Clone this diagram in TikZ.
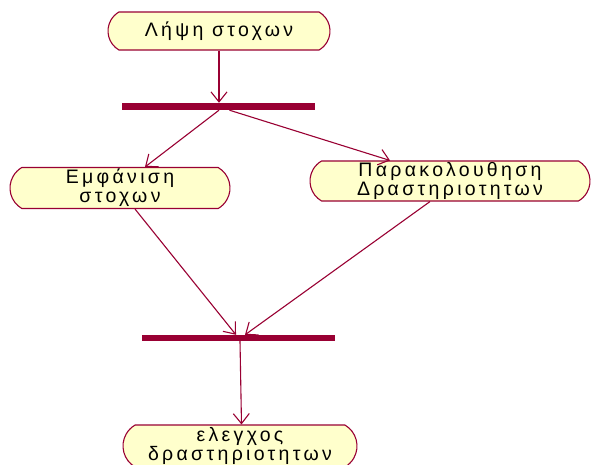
\documentclass[tikz,border=0pt]{standalone}
\usepackage{fontspec}
\setmainfont{Liberation Sans}[LetterSpace=17]
\usetikzlibrary{arrows.meta,shapes.misc,calc}
\definecolor{umlred}{HTML}{990033}
\definecolor{umlfill}{HTML}{FFFFCC}
\tikzset{
  activity/.style={rounded rectangle, rounded rectangle arc length=120, draw=umlred, fill=umlfill, line width=1.1pt,
    inner sep=0pt, align=center, font=\fontsize{19.5}{19}\selectfont},
  syncbar/.style={rectangle, fill=umlred, inner sep=0pt},
  flow/.style={draw=umlred, line width=1.1pt, -{Straight Barb[length=10pt,width=16pt,line width=1.1pt]}}
}
\begin{document}
\begin{tikzpicture}[x=1pt,y=1pt]
\useasboundingbox (0,0) rectangle (593,-464);
\clip (0,0) rectangle (593,-464);
\fill[white] (0,0) rectangle (593,-464);
% activity states
\node[activity, minimum width=222pt, minimum height=38pt] (get) at (219,-31) {Λήψη στοχων};
\node[activity, minimum width=220pt, minimum height=41pt] (show) at (120,-188) {Εμφάνιση\\στοχων};
\node[activity, minimum width=280pt, minimum height=40pt] (track) at (450,-181) {Παρακολουθηση\\Δραστηριοτητων};
\node[activity, minimum width=234pt, minimum height=42pt] (check) at (240,-446) {ελεγχος\\δραστηριοτητων};
% synchronisation bars
\node[syncbar, minimum width=193pt, minimum height=7pt] (fork) at (218.5,-106.5) {};
\node[syncbar, minimum width=193pt, minimum height=6pt] (join) at (238.5,-338) {};
% transitions
\draw[flow] (get.south) -- (get.south |- fork.north);
\draw[flow] ($(fork.south)+(0.5,0)$) -- ($(show.north)+(25,0)$);
\draw[flow] ($(fork.south)+(11,0)$) -- ($(track.north)+(-60,0)$);
\draw[flow] ($(show.south)+(15,0)$) -- ($(join.north)+(-2.5,0)$);
\draw[flow] ($(track.south)+(-20,0)$) -- ($(join.north)+(6.5,0)$);
\draw[flow] ($(join.south)+(1.5,0)$) -- ($(check.north)+(1.5,0)$);
\end{tikzpicture}
\end{document}
